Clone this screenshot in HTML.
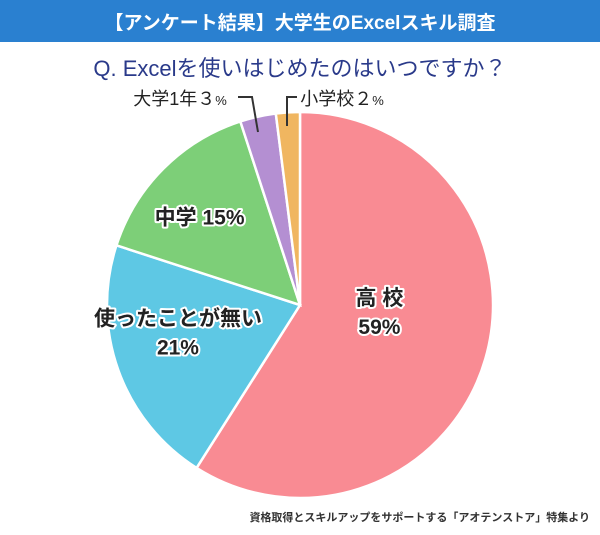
<!DOCTYPE html>
<html><head><meta charset="utf-8">
<style>
html,body{margin:0;padding:0;background:#fff;}
body{width:600px;height:530px;overflow:hidden;font-family:"Liberation Sans","Noto Sans CJK JP",sans-serif;}
.lbl{font-weight:bold;fill:#222;stroke:#fff;stroke-width:4px;paint-order:stroke;stroke-linejoin:round;}
</style></head>
<body>
<svg width="600" height="530">
<rect x="0" y="0" width="600" height="42" fill="#2a80d0"/>
<text x="300" y="29" text-anchor="middle" font-size="19" font-weight="bold" fill="#fff">【アンケート結果】大学生のExcelスキル調査</text>
<text x="300" y="76" text-anchor="middle" font-size="22" fill="#2a3a8a">Q. Excelを使いはじめたのはいつですか？</text>
<g id="slices"></g>
<g id="labels"></g>
<polyline points="238,97 252,97 258,132" fill="none" stroke="#333" stroke-width="2"/>
<polyline points="297,97 287,97 287,126" fill="none" stroke="#333" stroke-width="2"/>
<text x="180" y="105" text-anchor="middle" font-size="18" fill="#222">大学1年３<tspan font-size="13">%</tspan></text>
<text x="342" y="105" text-anchor="middle" font-size="18" fill="#222">小学校２<tspan font-size="13">%</tspan></text>
<text x="590" y="521" text-anchor="end" font-size="11" font-weight="bold" fill="#333">資格取得とスキルアップをサポートする「アオテンストア」特集より</text>
</svg>
<script>
const categories=["高校","使ったことが無い","中学","大学1年","小学校"];
const values=[59,21,15,3,2];
const colors=["#f98b93","#5ec8e4","#7dcf78","#b48fd2","#f0b660"];
const cx=300,cy=305,r=193;
const ns="http://www.w3.org/2000/svg";
const total=values.reduce((a,b)=>a+b,0);
function pt(a,rr){return [cx+rr*Math.sin(a),cy-rr*Math.cos(a)];}
let acc=0;
const g=document.getElementById('slices');
const lg=document.getElementById('labels');
const mids=[];
values.forEach((v,i)=>{
  const a0=acc/total*2*Math.PI; acc+=v; const a1=acc/total*2*Math.PI;
  const p0=pt(a0,r),p1=pt(a1,r);
  const large=(a1-a0)>Math.PI?1:0;
  const p=document.createElementNS(ns,'path');
  p.setAttribute('d',`M${cx},${cy}L${p0[0]},${p0[1]}A${r},${r} 0 ${large} 1 ${p1[0]},${p1[1]}Z`);
  p.setAttribute('fill',colors[i]);p.setAttribute('stroke','#fff');p.setAttribute('stroke-width','2.5');
  
  
  g.appendChild(p);
  mids.push((a0+a1)/2);
});
function addLabel(i,lines,rr,dx,dy){
  const m=pt(mids[i],rr);
  const t=document.createElementNS(ns,'text');
  t.setAttribute('class','lbl');t.setAttribute('text-anchor','middle');t.setAttribute('font-size','21');
  
  
  lines.forEach((s,k)=>{const ts=document.createElementNS(ns,'tspan');ts.setAttribute('x',m[0]+dx);ts.setAttribute('y',m[1]+dy+k*29);ts.textContent=s;t.appendChild(ts);});
  lg.appendChild(t);
}
addLabel(0,["高 校",values[0]+"%"],115,-31,-32);
addLabel(1,[categories[1],values[1]+"%"],135,5,-25);
addLabel(2,["中学 "+values[2]+"%"],125,-12,8);
</script>
</body></html>
